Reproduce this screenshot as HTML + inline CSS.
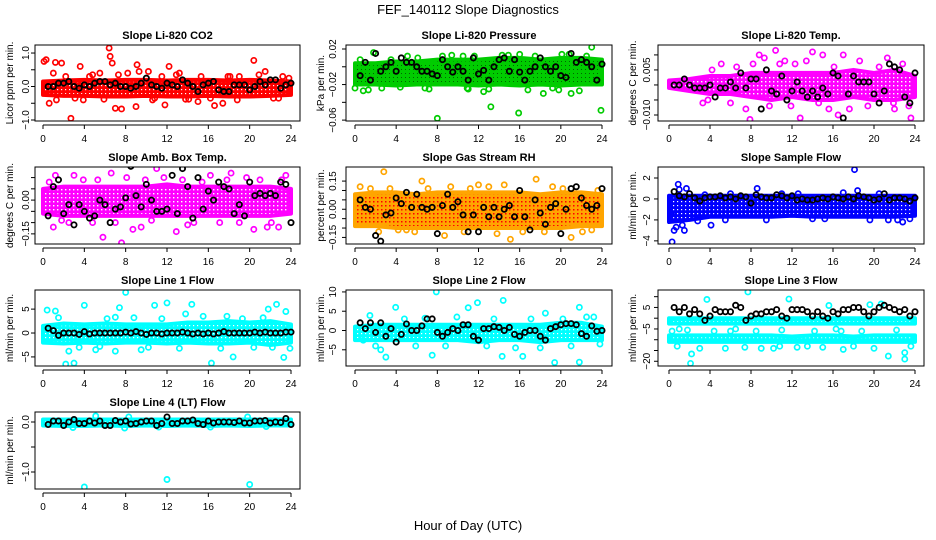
<!DOCTYPE html>
<html><head><meta charset="utf-8"><style>
html,body{margin:0;padding:0;background:#fff}
svg{display:block;font-family:"Liberation Sans",sans-serif}
</style></head><body>
<svg id="c" width="936" height="540" viewBox="0 0 936 540">
<defs>
<pattern id="p-red" width="4" height="4" patternUnits="userSpaceOnUse"><rect width="4" height="4" fill="#ff0000"/><rect x="1" y="1" width="1.2" height="1.2" fill="#fff"/></pattern>
<pattern id="p-green" width="4" height="4" patternUnits="userSpaceOnUse"><rect width="4" height="4" fill="#00cc00"/><rect x="1" y="1" width="1" height="1" fill="#000" opacity="0.5"/></pattern>
<pattern id="p-mag" width="4" height="4" patternUnits="userSpaceOnUse"><rect width="4" height="4" fill="#ff00ff"/><rect x="1" y="1" width="1.4" height="1.4" fill="#fff"/></pattern>
<pattern id="p-orange" width="4" height="4" patternUnits="userSpaceOnUse"><rect width="4" height="4" fill="#ffa500"/><rect x="1" y="1" width="1.5" height="1.5" fill="#ff0000"/></pattern>
<pattern id="p-blue" width="4" height="4" patternUnits="userSpaceOnUse"><rect width="4" height="4" fill="#0000ff"/><rect x="1" y="1" width="1.2" height="1.2" fill="#fff"/></pattern>
<pattern id="p-cyan" width="4" height="4" patternUnits="userSpaceOnUse"><rect width="4" height="4" fill="#00ffff"/><rect x="1" y="1" width="1.2" height="1.2" fill="#fff"/></pattern>
</defs>
<text x="468" y="14" text-anchor="middle" font-size="13">FEF_140112  Slope Diagnostics</text>
<text x="468" y="530" text-anchor="middle" font-size="13">Hour of Day (UTC)</text>
</svg>
<script>
const H = [0.5,1,1.5,2,2.5,3,3.5,4,4.5,5,5.5,6,6.5,7,7.5,8,8.5,9,9.5,10,10.5,11,11.5,12,12.5,13,13.5,14,14.5,15,15.5,16,16.5,17,17.5,18,18.5,19,19.5,20,20.5,21,21.5,22,22.5,23,23.5,24];
const bandHours = [0,2,4,6,8,10,12,14,16,18,20,22,24];
const xTicks = [0,4,8,12,16,20,24];

const co2Black = [0.0,0.0,0.1,0.1,0.15,0.0,-0.05,0.05, 0.0,0.1,0.15,0.15,0.05,0.1,0.0,0.0, -0.05,0.0,0.1,0.25,0.05,0.0,-0.05,0.1, 0.05,0.0,0.2,0.1,0.0,-0.15,0.05,0.1, 0.15,-0.1,-0.15,-0.15,0.05,0.05,0.05,-0.1, 0.0,0.15,0.05,0.2,0.2,-0.05,0.05,0.1];
const co2Hi = [0.15,0.18,0.2,0.18,0.2,0.2,0.18,0.2,0.2,0.18,0.2,0.18,0.15];
const co2Lo = [-0.25,-0.28,-0.28,-0.3,-0.3,-0.28,-0.3,-0.3,-0.28,-0.3,-0.3,-0.28,-0.25];
const co2OutX = [0.1,0.3,1.2,1.8,2.7,3.6,4.8,6.4,6.5,6.7,7.0,7.6,9.0,9.1,9.3,10.2,11.8,12.2,13.2,16.6,17.4,20.4,21.5,23.8,1.0,3.9,12.9,0.6,5.5,15.0,19.0,1.3,2.2,3.1,4.5,5.9,7.3,8.2,10.8,11.5,14.1,15.3,16.2,17.9,18.8,20.9,22.3,23.2,10.6,13.8,18.1,22.8];
const co2OutY = [0.75,0.8,0.72,0.7,-0.95,0.6,0.35,1.15,0.9,0.7,-0.65,-0.67,-0.6,0.65,0.45,0.45,-0.55,0.6,0.4,-0.57,-0.5,0.78,0.45,0.25,0.4,-0.4,0.35,-0.5,0.4,-0.45,0.3,-0.4,0.3,-0.35,0.3,-0.38,0.35,0.4,-0.35,0.3,-0.38,0.3,-0.35,0.3,-0.4,0.35,-0.35,0.3,-0.4,-0.38,0.3,-0.35];

const presBlack = [-0.01,0.005,-0.015,0.015,-0.005,0.0,0.005,-0.005, 0.01,0.005,0.005,0.0,-0.005,-0.005,-0.008,-0.01, 0.008,0.0,-0.006,0.0,-0.005,-0.015,0.01,-0.008, -0.004,-0.015,0.0,0.008,0.01,-0.005,0.008,-0.006, -0.015,-0.005,0.0,0.01,0.0,-0.005,0.0,-0.01, -0.012,0.015,0.005,0.008,0.005,0.0,-0.015,0.003];
const presHi = [0.004,0.004,0.006,0.006,0.008,0.008,0.008,0.01,0.01,0.008,0.01,0.01,0.008];
const presLo = [-0.02,-0.02,-0.021,-0.02,-0.02,-0.02,-0.021,-0.02,-0.021,-0.02,-0.021,-0.02,-0.02];
const presOutX = [0,0.8,1.3,5.1,8.0,8.5,13.2,15.9,23.9,23.0,14.3,12.5,18.3,21.0,1.8,10.5,20.8,0.5,2.6,3.5,4.4,6.1,7.2,9.4,10.9,11.6,13.0,14.9,16.8,17.5,19.2,20.1,21.8,22.5,6.8,11.0,16.0,19.8];
const presOutY = [-0.024,-0.027,-0.026,0.012,-0.058,0.012,-0.045,-0.052,-0.049,0.022,0.013,-0.028,-0.03,-0.03,0.016,0.012,0.014,0.008,-0.024,0.008,-0.023,0.01,-0.025,0.013,-0.024,0.012,-0.025,0.013,-0.026,0.012,-0.024,0.014,-0.027,0.012,-0.024,-0.025,0.014,-0.026];

const tempBlack = [0.000,0.000,0.002,0.000,-0.001,-0.001,-0.001,0.000, -0.004,-0.001,-0.001,0.001,-0.001,0.004,-0.001,0.002, 0.002,-0.008,0.005,-0.002,-0.003,0.003,-0.005,-0.002, 0.001,-0.002,-0.004,-0.002,-0.004,-0.001,-0.003,0.004, 0.003,-0.011,-0.003,0.003,0.001,0.001,0.001,-0.003, -0.006,-0.002,0.007,0.006,0.005,-0.004,-0.006,0.004];
const tempHi = [0.0015,0.002,0.003,0.003,0.004,0.004,0.004,0.004,0.004,0.005,0.004,0.005,0.003];
const tempLo = [-0.001,-0.002,-0.003,-0.003,-0.004,-0.005,-0.004,-0.005,-0.005,-0.004,-0.005,-0.005,-0.004];
const tempOutX = [7.9,10.4,14.0,17.0,21.3,12.8,23.6,16.5,8.8,7.5,8.2,15.0,9.3,5.1,11.3,18.6,22.0,3.8,3.3,4.2,6.0,6.6,9.8,10.8,11.9,13.4,14.6,16.1,17.6,19.4,20.5,21.9,22.8,23.4,12.3,15.6];
const tempOutY = [-0.0115,0.0115,0.011,0.010,0.009,-0.011,-0.011,-0.010,0.010,-0.008,0.007,0.010,0.009,0.007,0.008,0.008,-0.008,-0.005,-0.006,0.005,-0.006,0.006,-0.007,0.007,-0.007,0.008,-0.006,0.006,-0.008,-0.007,0.006,-0.006,0.007,-0.007,0.007,-0.008];

const ambBlack = [-0.07,0.06,0.09,-0.06,-0.02,-0.11,-0.02,-0.05, -0.08,-0.07,0.00,-0.02,-0.10,-0.04,-0.03,0.01, 0.15,0.02,-0.03,0.07,0.00,-0.05,-0.05,-0.04, 0.11,-0.06,0.14,0.06,-0.08,0.10,-0.04,0.04, 0.00,0.08,0.06,0.05,-0.06,-0.02,-0.07,0.08, 0.02,0.03,0.02,0.03,0.02,0.08,0.07,-0.10];
const ambHi = [0.05,0.06,0.06,0.06,0.06,0.06,0.07,0.06,0.06,0.06,0.06,0.06,0.05];
const ambLo = [-0.06,-0.07,-0.07,-0.07,-0.07,-0.07,-0.07,-0.07,-0.07,-0.07,-0.07,-0.07,-0.06];
const ambOutX = [5.8,7.6,11.0,12.9,16.2,20.4,21.7,1.2,8.7,6.6,18.2,1.0,3.0,9.5,14.0,22.8,2.5,23.5,0.6,1.8,3.9,4.8,5.3,7.0,8.1,9.9,10.5,11.7,13.5,14.6,15.4,17.1,17.8,19.0,19.7,21.0,22.1,23.1];
const ambOutY = [-0.165,-0.19,0.14,-0.14,0.11,-0.13,-0.12,0.11,-0.13,0.12,0.12,-0.12,0.11,-0.12,-0.11,-0.12,-0.1,0.11,0.08,-0.09,0.09,-0.1,0.09,-0.1,0.1,0.09,-0.09,0.1,0.09,-0.1,0.08,-0.1,0.09,-0.1,0.1,0.09,-0.1,0.09];

const rhBlack = [0.05,0.01,0.00,-0.14,-0.17,-0.03,-0.02,0.06, 0.03,0.09,0.01,0.08,0.01,0.00,0.01,-0.13, 0.02,0.08,0.01,0.04,-0.03,-0.12,-0.03,-0.12, 0.01,-0.04,0.01,-0.04,0.00,0.02,-0.04,0.10, -0.04,-0.11,0.05,-0.02,-0.08,0.01,0.03,-0.13, 0.00,0.11,0.12,0.06,0.02,0.00,0.02,0.11];
const rhHi = [0.08,0.09,0.09,0.08,0.09,0.09,0.09,0.09,0.09,0.08,0.09,0.09,0.08];
const rhLo = [-0.09,-0.09,-0.1,-0.1,-0.1,-0.1,-0.1,-0.1,-0.1,-0.1,-0.1,-0.09,-0.09];
const rhOutX = [2.8,8.7,17.6,21.0,15.1,6.5,4.2,5.0,23.0,0.5,13.8,12.0,19.2,1.5,2.3,3.4,5.8,7.1,9.3,10.6,11.2,13.0,14.5,16.3,18.4,20.2,22.1,23.6];
const rhOutY = [0.2,-0.14,0.16,-0.15,-0.16,0.15,-0.11,-0.11,-0.11,0.12,-0.13,0.13,0.12,0.11,-0.12,0.11,-0.12,0.11,0.12,-0.12,0.11,0.12,0.13,-0.12,-0.12,0.11,-0.12,0.1];

const sfBlack = [0.7,0.3,0.2,0.5,0.1,-0.2,0.1,0.2, 0.2,0.3,0.1,0.2,0.0,0.3,0.2,-0.4, 0.4,0.2,0.1,0.1,0.4,0.3,0.1,0.3, -0.1,0.0,-0.1,-0.1,0.0,0.1,0.0,0.2, 0.1,0.0,0.2,0.0,0.3,0.2,0.1,-0.1, 0.0,0.5,-0.1,0.1,0.1,0.0,-0.2,0.1];
const sfHi = [0.3,0.3,0.3,0.3,0.3,0.3,0.3,0.3,0.3,0.3,0.3,0.3,0.3];
const sfLo = [-2.2,-2.0,-1.7,-1.7,-1.7,-1.7,-1.6,-1.7,-1.7,-1.7,-1.7,-1.7,-1.6];
const sfOutX = [0.3,0.5,1.5,0.9,1.7,18.1,8.6,4.1,22.8,0.7,1.3,18.4,22.3,0.2,1.0,2.8,6.0,9.5,12.6,15.2,17.0,19.6,21.4,23.5,3.5,5.5,11.0,14.0,20.5];
const sfOutY = [-4.1,-3.0,-3.0,1.4,1.0,2.8,1.0,-2.5,-2.2,-2.7,-2.5,0.8,-2.0,-1.5,0.9,-2.1,0.5,-2.0,0.5,-1.9,0.6,-2.0,-2.0,-1.9,0.4,-2.0,0.5,-1.9,0.5];

const l1Black = [1.0,0.5,-0.5,0.0,0.0,0.0,-0.3,0.3, -0.2,0.0,0.0,0.0,0.0,0.0,0.0,0.2, 0.0,0.3,0.0,-0.3,0.0,0.0,-0.2,0.0, 0.0,0.0,0.2,0.0,-0.2,0.0,-0.2,0.0, -0.2,0.0,0.3,0.0,0.0,0.0,0.0,0.0, 0.2,0.0,0.2,0.0,0.0,0.0,0.2,0.2];
const l1Hi = [1.5,2,1.8,2,1.8,1.8,1.8,2.2,2.2,2.5,2.2,2.5,1.8];
const l1Lo = [-2,-2.2,-2,-2.2,-2,-2,-2.2,-2,-2.2,-2.2,-2,-2.5,-2];
const l1OutX = [8.0,12.0,4.0,14.4,22.6,0.4,1.2,2.2,3.0,16.3,7.0,18.4,23.3,2.5,7.4,10.8,21.8,7.0,9.5,23.5,1.5,3.5,5.1,6.2,8.8,10.2,11.5,13.2,15.5,17.2,19.3,20.4,21.3,22.2,5.5,13.8,17.8,23.9];
const l1OutY = [8.5,6.3,5.8,6.0,6.0,4.8,4.6,-6.5,-6.3,-6.3,-3.8,-5.0,-5.1,-3.8,5.3,5.8,5.0,3.3,-3.5,4.5,3.2,-3.0,-3.5,3.0,3.2,-3.0,3.0,-3.2,3.5,-3.2,3.0,-3.0,3.2,-3.0,-2.8,4.0,3.5,-3.2];

const l2Black = [2.0,0.5,2.0,-0.5,2.0,-1.5,0.5,-3.0, -1.0,1.7,0.0,0.0,1.2,3.0,3.0,-0.5, -1.5,-0.5,0.5,0.0,1.5,1.5,-1.5,-2.5, 0.5,0.5,1.0,0.8,0.0,0.8,-1.0,-1.5, -0.5,0.0,0.0,-1.5,-2.5,0.5,1.0,1.5, 1.8,1.8,1.5,-0.8,-1.5,1.2,-0.2,0.0];
const l2Hi = [1,1.5,1.5,1.5,1.5,1.5,1.5,1.5,1.5,1.5,2,2,1];
const l2Lo = [-2.5,-2.5,-2.5,-2.5,-2.5,-2.5,-3,-2.5,-2.5,-3,-2.5,-2.5,-2.5];
const l2OutX = [7.9,3.95,11.9,14.4,21.8,19.4,21.8,7.5,3.0,14.3,16.3,1.45,11.0,2.5,18.5,22.5,0.8,2.0,4.8,5.9,6.8,8.8,9.9,12.8,13.5,15.6,17.1,18.0,20.2,21.0,23.2,23.8];
const l2OutY = [10,6.0,7.2,7.8,6.0,-8.3,-8.2,-6.4,-6.9,-6.7,-6.7,3.9,5.9,-5.0,4.5,3.5,-2.5,-4.0,3.0,-4.0,3.2,-4.0,3.5,-4.0,3.0,-4.5,3.0,-4.5,3.0,-4.0,3.5,-3.5];

const l3Black = [5,3,5,2,4,2,-1,1, 4,3,3,3,6,5,-1,1, 2,2,3,3,4,1,0,4, 4,4,3,1,3,1,0,3, 2,4,4,5,5,3,1,3, 5,6,5,4,3,4,1,3];
const l3Hi = [0,0,0,0,0,0,0,0,0,0,0,0,0];
const l3Lo = [-2.5,-2.5,-2.5,-2.5,-2.5,-2.5,-2.5,-2.5,-2.5,-2.5,-2.5,-2.5,-2.5];
const l3Hi2 = [-8,-8,-8,-8,-8,-8,-8.5,-8,-8,-8.5,-8,-8,-8];
const l3Lo2 = [-11,-11,-11,-11,-11,-11,-11,-11,-11,-11,-11,-11,-11];
const l3OutX = [3.7,7.7,11.7,15.6,19.6,20.7,2.1,2.2,21.4,23.0,23.0,1.0,5.5,9.0,13.5,17.0,0.8,1.8,3.0,4.4,6.5,7.4,8.5,10.2,11.0,12.5,14.2,15.0,16.3,18.0,18.8,20.0,22.2,23.6,0.3,6.0,10.8,16.8];
const l3OutY = [8.7,12.2,8.9,5.9,6.3,6.6,-21,-16.6,-17.6,-19,-16,-5,-14,-14,-13,-14.5,-13,-5.5,-14,-6,-5,-13.5,-6,-14,-5.5,-13.5,-6,-13.5,-5,-13,-6,-14,-5.5,-13,-6,-6,-13,-6];

const l4Black = [-0.05,0.02,0.02,-0.07,0.0,0.05,-0.03,-0.03, 0.02,-0.02,0.02,-0.07,-0.07,0.03,0.0,0.02, -0.04,-0.03,0.0,0.02,0.02,-0.07,-0.03,0.1, -0.03,-0.03,0.02,0.02,0.04,-0.03,-0.05,0.02, -0.02,0.0,0.0,0.0,-0.01,0.02,-0.02,-0.02, 0.02,0.02,0.03,-0.02,0.0,-0.01,0.07,-0.05];
const l4Hi = [0.05,0.05,0.05,0.05,0.05,0.05,0.05,0.05,0.05,0.05,0.05,0.05,0.05];
const l4Lo = [-0.07,-0.08,-0.08,-0.07,-0.08,-0.07,-0.08,-0.07,-0.08,-0.07,-0.08,-0.07,-0.07];
const l4OutX = [4.0,12.0,20.0,5.1,7.9,19.8,2.9,8.3,11.2,16.2,21.6];
const l4OutY = [-1.3,-1.15,-1.25,0.12,-0.12,0.1,-0.11,0.1,-0.1,-0.1,-0.09];

const NS = "http://www.w3.org/2000/svg";
const svg = document.getElementById('c');
function mk(tag, attrs, parent){ const e=document.createElementNS(NS,tag); for(const k in attrs) e.setAttribute(k,attrs[k]); (parent||svg).appendChild(e); return e; }

const cols = [{l:35,r:300,x0:43,x1:291,tl:25,yt:10},{l:346,r:612,x0:355,x1:602,tl:332,yt:321},{l:658,r:924,x0:669,x1:915,tl:646,yt:633}];
const rows = [{t:45,b:121},{t:167,b:244},{t:290,b:366},{t:412,b:489}];

const panels = [
 {name:'co2',title:'Slope Li-820 CO2',yl:'Licor ppm per min.',c:0,r:0,ymin:-1.03,ymax:1.24,ticks:[-1,-0.5,0,0.5,1],labels:['\u22121.0','','0.0','','1.0'],col:'#ff0000',pat:'p-red',bands:[[co2Hi,co2Lo]],ox:co2OutX,oy:co2OutY,blk:co2Black},
 {name:'pressure',title:'Slope Li-820 Pressure',yl:'kPa per min.',c:1,r:0,ymin:-0.061,ymax:0.0245,ticks:[-0.06,-0.04,-0.02,0,0.02],labels:['\u22120.06','','\u22120.02','','0.02'],col:'#00cc00',pat:'p-green',bands:[[presHi,presLo]],ox:presOutX,oy:presOutY,blk:presBlack},
 {name:'temp',title:'Slope Li-820 Temp.',yl:'degrees C per min.',c:2,r:0,ymin:-0.012,ymax:0.0133,ticks:[-0.01,-0.005,0,0.005,0.01],labels:['\u22120.010','','','0.005',''],col:'#ff00ff',pat:'p-mag',bands:[[tempHi,tempLo]],ox:tempOutX,oy:tempOutY,blk:tempBlack},
 {name:'amb-box-temp',title:'Slope Amb. Box Temp.',yl:'degrees C per min.',c:0,r:1,ymin:-0.195,ymax:0.147,ticks:[-0.15,-0.1,-0.05,0,0.05,0.1],labels:['\u22120.15','','','0.00','',''],col:'#ff00ff',pat:'p-mag',bands:[[ambHi,ambLo]],ox:ambOutX,oy:ambOutY,blk:ambBlack},
 {name:'gas-stream-rh',title:'Slope Gas Stream RH',yl:'percent per min.',c:1,r:1,ymin:-0.185,ymax:0.225,ticks:[-0.15,-0.1,-0.05,0,0.05,0.1,0.15],labels:['\u22120.15','','','0.00','','','0.15'],col:'#ffa500',pat:'p-orange',bands:[[rhHi,rhLo]],ox:rhOutX,oy:rhOutY,blk:rhBlack},
 {name:'sample-flow',title:'Slope Sample Flow',yl:'ml/min per min.',c:2,r:1,ymin:-4.3,ymax:3.05,ticks:[-4,-2,0,2],labels:['\u22124','\u22122','0','2'],col:'#0000ff',pat:'p-blue',bands:[[sfHi,sfLo]],ox:sfOutX,oy:sfOutY,blk:sfBlack},
 {name:'line1-flow',title:'Slope Line 1 Flow',yl:'ml/min per min.',c:0,r:2,ymin:-6.9,ymax:9,ticks:[-5,0,5],labels:['\u22125','0','5'],col:'#00ffff',pat:'p-cyan',bands:[[l1Hi,l1Lo]],ox:l1OutX,oy:l1OutY,blk:l1Black},
 {name:'line2-flow',title:'Slope Line 2 Flow',yl:'ml/min per min.',c:1,r:2,ymin:-9.2,ymax:10.5,ticks:[-5,0,5,10],labels:['\u22125','0','5','10'],col:'#00ffff',pat:'p-cyan',bands:[[l2Hi,l2Lo]],ox:l2OutX,oy:l2OutY,blk:l2Black},
 {name:'line3-flow',title:'Slope Line 3 Flow',yl:'ml/min per min.',c:2,r:2,ymin:-22.2,ymax:13.1,ticks:[-20,-15,-10,-5,0,5,10],labels:['\u221220','','','\u22125','','5',''],col:'#00ffff',pat:'p-cyan',bands:[[l3Hi,l3Lo],[l3Hi2,l3Lo2]],ox:l3OutX,oy:l3OutY,blk:l3Black},
 {name:'line4-flow',title:'Slope Line 4 (LT) Flow',yl:'ml/min per min.',c:0,r:3,ymin:-1.34,ymax:0.2,ticks:[-1,-0.5,0],labels:['\u22121.0','','0.0'],col:'#00ffff',pat:'p-cyan',bands:[[l4Hi,l4Lo]],ox:l4OutX,oy:l4OutY,blk:l4Black}
];

panels.forEach(p=>{
  const C=cols[p.c], R=rows[p.r];
  const xs=h=>C.x0+(C.x1-C.x0)*h/24;
  const ys=v=>R.b-(v-p.ymin)/(p.ymax-p.ymin)*(R.b-R.t);
  const g=mk('g',{});
  
  
  const cid='clip-'+p.name;
  const cp=mk('clipPath',{id:cid},g); mk('rect',{x:C.l,y:R.t,width:C.r-C.l,height:R.b-R.t},cp);
  const t=mk('text',{x:(C.l+C.r)/2,y:R.t-6,'text-anchor':'middle','font-size':'11','font-weight':'bold'},g); t.textContent=p.title;
  
  
  const yt=mk('text',{x:0,y:0,'text-anchor':'middle','font-size':'10',transform:`translate(${C.yt+3},${(R.t+R.b)/2}) rotate(-90)`},g); yt.textContent=p.yl;
  
  
  const pg=mk('g',{'clip-path':`url(#${cid})`},g);
  p.bands.forEach(b=>{
    let pts=bandHours.map((h,i)=>xs(h)+','+ys(b[0][i]));
    for(let i=bandHours.length-1;i>=0;i--) pts.push(xs(bandHours[i])+','+ys(b[1][i]));
    const bp=mk('polygon',{points:pts.join(' '),fill:`url(#${p.pat})`,stroke:p.col,'stroke-width':'4','stroke-linejoin':'round'},pg);
    
    
  });
  p.ox.forEach((h,i)=>{
    const c=mk('circle',{cx:xs(h),cy:ys(p.oy[i]),r:2.6,fill:'none',stroke:p.col,'stroke-width':1.7},pg);
    
    
  });
  H.forEach((h,i)=>{
    if(i>=p.blk.length) return;
    const c=mk('circle',{cx:xs(h),cy:ys(p.blk[i]),r:2.6,fill:'none',stroke:'#000','stroke-width':1.8},pg);
    
    
  });
  mk('rect',{x:C.l,y:R.t,width:C.r-C.l,height:R.b-R.t,fill:'none',stroke:'#000','stroke-width':1},g);
  const ya=mk('g',{},g);
  
  
  const yv=p.ticks.map(ys);
  mk('line',{x1:C.l,x2:C.l,y1:Math.min(...yv),y2:Math.max(...yv),stroke:'#000'},ya);
  p.ticks.forEach((v,i)=>{
    const y=ys(v);
    mk('line',{x1:C.l-4,x2:C.l,y1:y,y2:y,stroke:'#000'},ya);
    if(p.labels[i]){const tl=mk('text',{x:0,y:0,'text-anchor':'middle','font-size':'10',transform:`translate(${C.tl+4},${y}) rotate(-90)`},ya); tl.textContent=p.labels[i];}
  });
  const xa=mk('g',{},g);
  
  
  mk('line',{x1:xs(0),x2:xs(24),y1:R.b+4,y2:R.b+4,stroke:'#000'},xa);
  xTicks.forEach(h=>{
    mk('line',{x1:xs(h),x2:xs(h),y1:R.b+4,y2:R.b+8,stroke:'#000'},xa);
    const tl=mk('text',{x:xs(h),y:R.b+21,'text-anchor':'middle','font-size':'10'},xa); tl.textContent=h;
  });
});
</script>
</body></html>
